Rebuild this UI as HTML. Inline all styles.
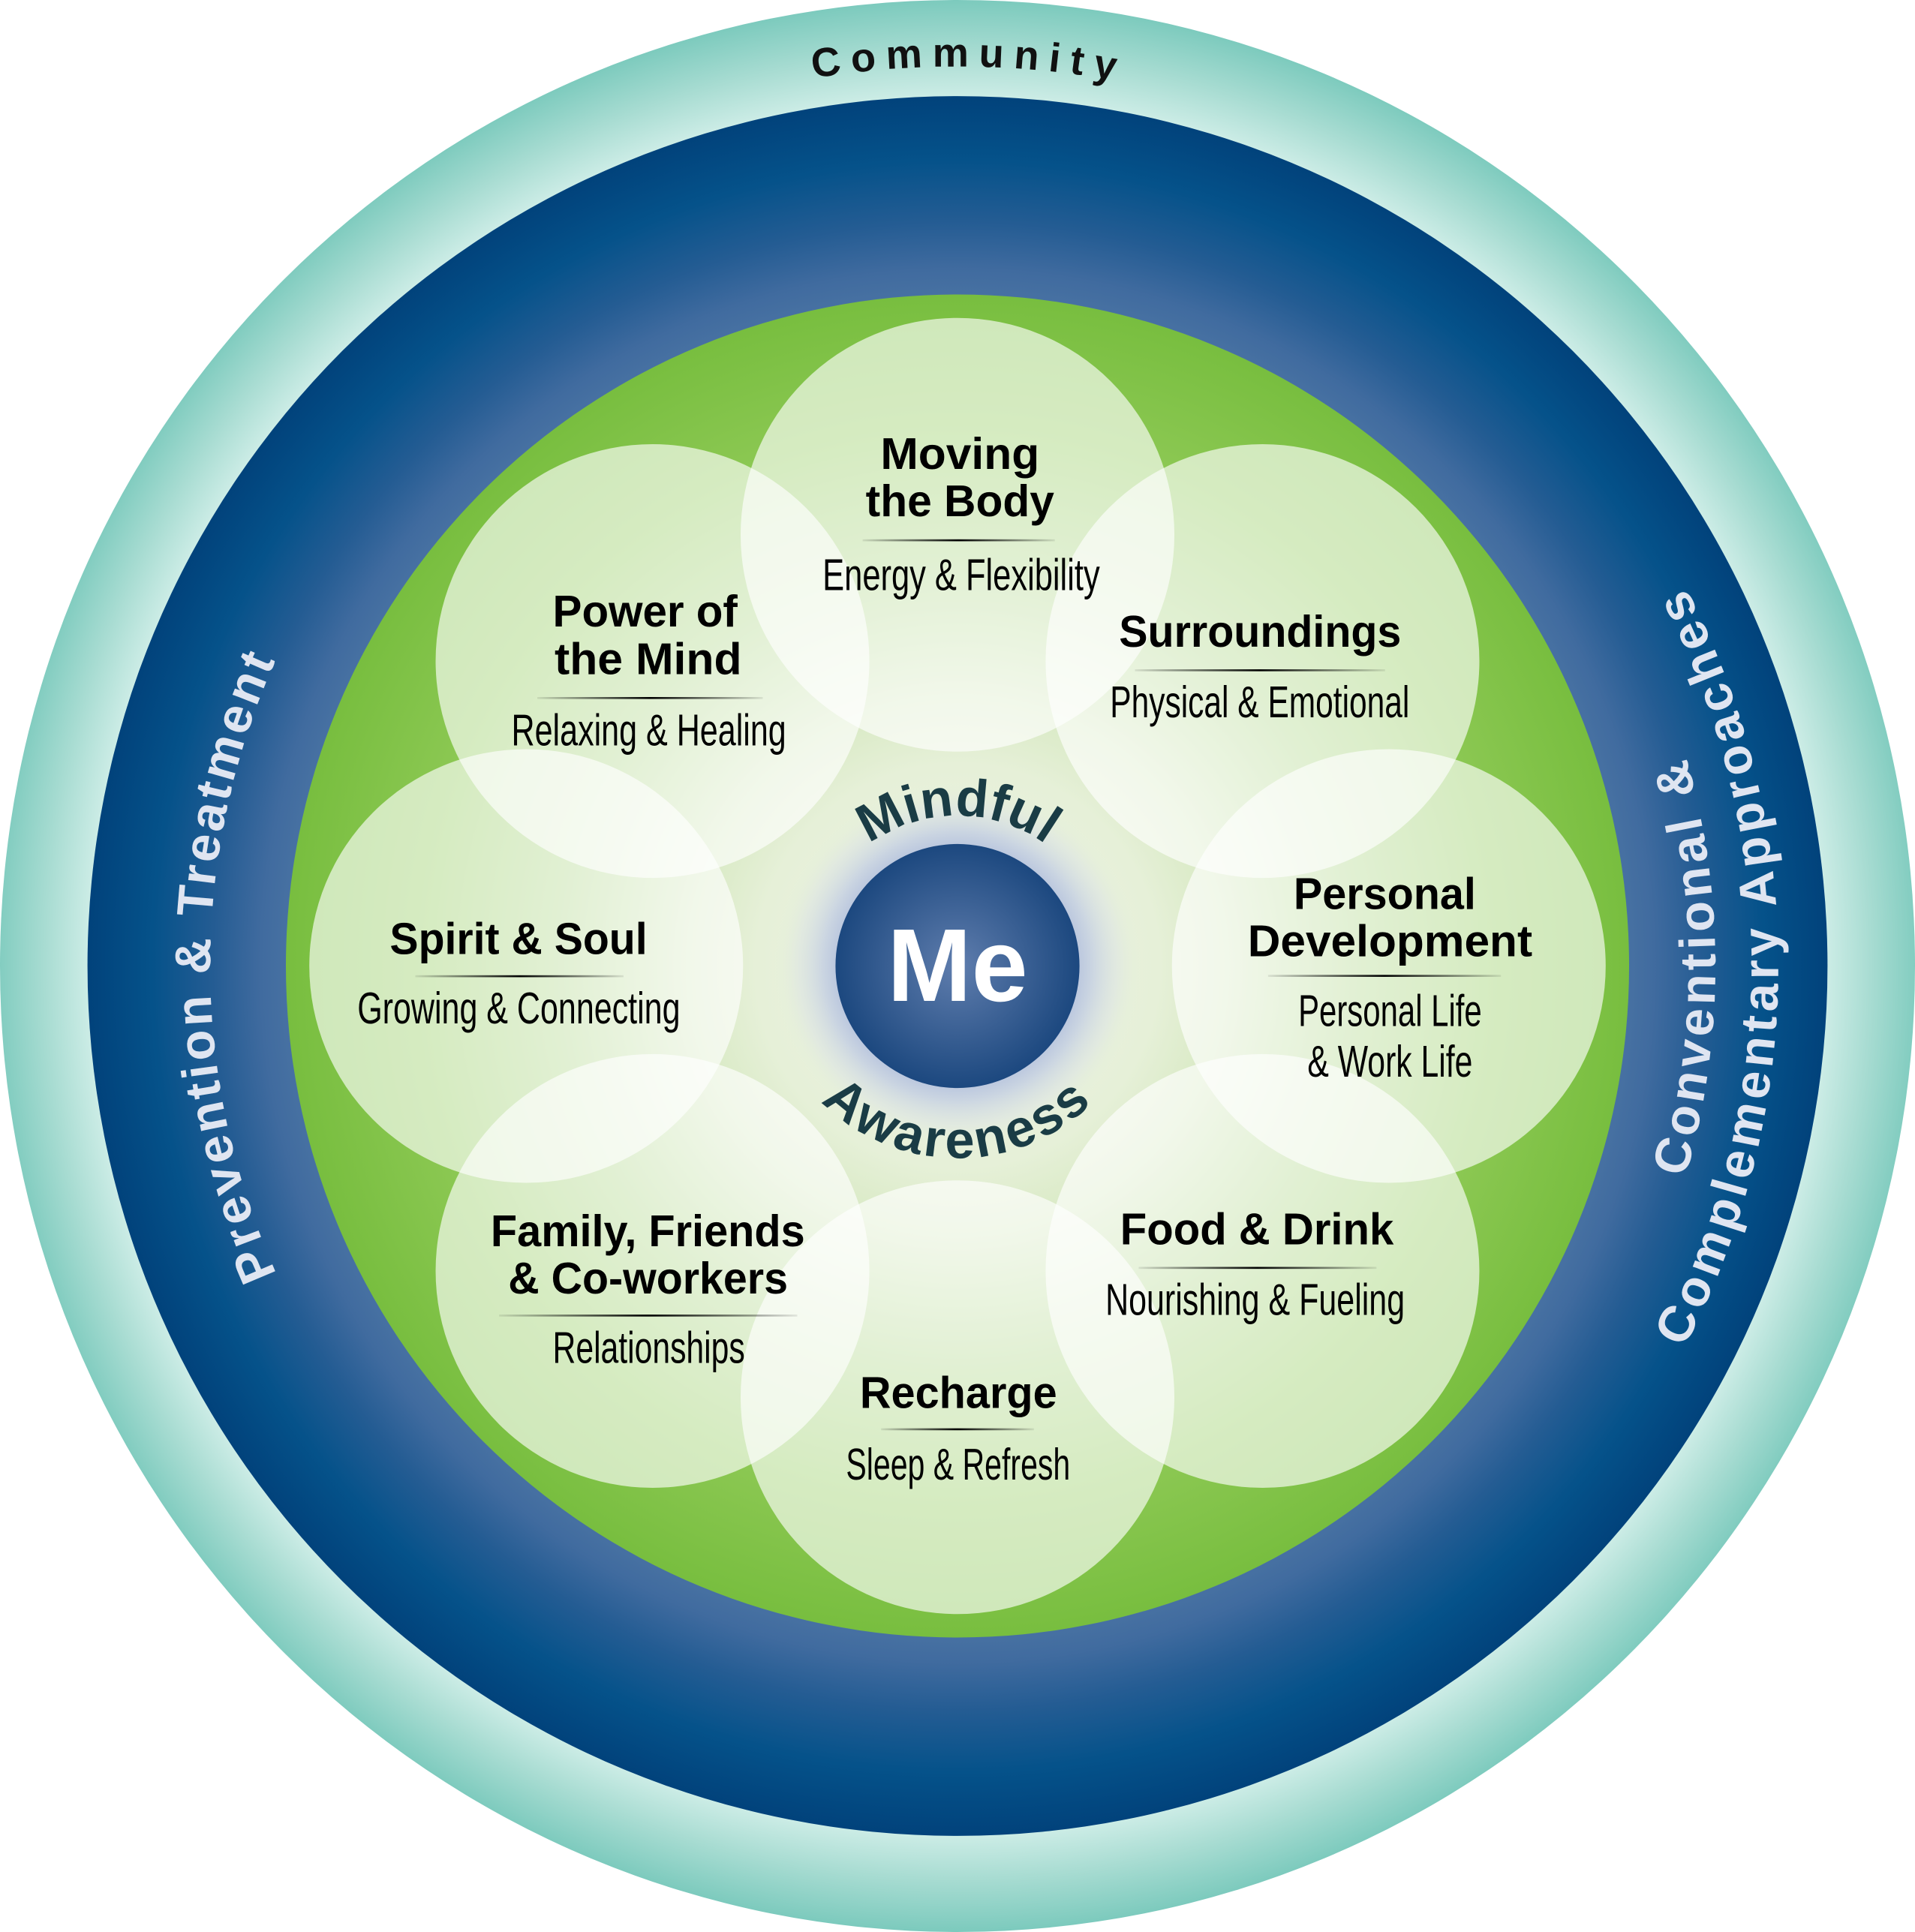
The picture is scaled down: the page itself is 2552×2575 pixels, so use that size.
<!DOCTYPE html>
<html><head><meta charset="utf-8">
<style>
html,body{margin:0;padding:0;background:#fff;width:2552px;height:2575px;overflow:hidden;}
svg{display:block;}
text{font-family:"Liberation Sans",Arial,sans-serif;}
.t{font-weight:bold;font-size:36px;fill:#000;}
.s{font-weight:normal;font-size:36px;fill:#000;}
.ring{font-weight:bold;font-size:41px;fill:#dfe5f1;}
.mw{font-weight:bold;font-size:43px;fill:#1a3c45;}
</style></head><body>
<svg width="2552" height="2575" viewBox="0 0 1554 1568" xmlns="http://www.w3.org/2000/svg">
<defs>
<radialGradient id="teal" gradientUnits="userSpaceOnUse" cx="777" cy="784" r="784">
 <stop offset="0.895" stop-color="#d0eee8"/>
 <stop offset="0.945" stop-color="#a8dcd2"/>
 <stop offset="1" stop-color="#7ccabd"/>
</radialGradient>
<radialGradient id="blue" gradientUnits="userSpaceOnUse" cx="777" cy="784" r="707">
 <stop offset="0.77" stop-color="#4771a2"/>
 <stop offset="0.80" stop-color="#406b9f"/>
 <stop offset="0.855" stop-color="#245c93"/>
 <stop offset="0.925" stop-color="#05528a"/>
 <stop offset="1" stop-color="#01427b"/>
</radialGradient>
<radialGradient id="green" gradientUnits="userSpaceOnUse" cx="777" cy="784" r="545">
 <stop offset="0" stop-color="#eff6e6"/>
 <stop offset="0.3" stop-color="#e6f0d8"/>
 <stop offset="0.4" stop-color="#d9eac5"/>
 <stop offset="0.6" stop-color="#acd585"/>
 <stop offset="0.8" stop-color="#8cc853"/>
 <stop offset="1" stop-color="#78be3f"/>
</radialGradient>
<radialGradient id="glow" gradientUnits="userSpaceOnUse" cx="777" cy="784" r="150">
 <stop offset="0.6" stop-color="#aebcdb" stop-opacity="1"/>
 <stop offset="0.72" stop-color="#c3cee2" stop-opacity="0.85"/>
 <stop offset="0.86" stop-color="#d8dfe6" stop-opacity="0.45"/>
 <stop offset="1" stop-color="#e6f0d8" stop-opacity="0"/>
</radialGradient>
<radialGradient id="me" cx="0.5" cy="0.5" r="0.5">
 <stop offset="0" stop-color="#5f7dad"/>
 <stop offset="1" stop-color="#1c487f"/>
</radialGradient>
<linearGradient id="sep" x1="0" y1="0" x2="1" y2="0">
 <stop offset="0" stop-color="#000" stop-opacity="0.08"/>
 <stop offset="0.5" stop-color="#000" stop-opacity="1"/>
 <stop offset="1" stop-color="#000" stop-opacity="0.08"/>
</linearGradient>
<path id="pComm" d="M 47 784 A 730 730 0 0 1 1507 784"/>
<path id="pMind" d="M 655 784 A 122 122 0 0 1 899 784"/>
<path id="pAware" d="M 621 784 A 156 156 0 0 0 933 784"/>
<path id="pPrev" d="M 473.75 1309.2 A 606.5 606.5 0 0 1 473.75 258.8"/>
<path id="pConv1" d="M 1084.5 1316.6 A 615 615 0 0 0 1084.5 251.4"/>
<path id="pConv2" d="M 1110 1360.8 A 666 666 0 0 0 1110 207.2"/>
</defs>

<!-- rings -->
<ellipse cx="777" cy="784" rx="777" ry="784" fill="url(#teal)"/>
<circle cx="777" cy="784" r="706" fill="url(#blue)"/>
<circle cx="777" cy="784" r="545" fill="url(#green)"/>

<!-- petals -->
<g fill="#ffffff" fill-opacity="0.64">
 <circle cx="777" cy="434" r="176"/>
 <circle cx="1024.5" cy="536.5" r="176"/>
 <circle cx="1127" cy="784" r="176"/>
 <circle cx="1024.5" cy="1031.5" r="176"/>
 <circle cx="777" cy="1134" r="176"/>
 <circle cx="529.5" cy="1031.5" r="176"/>
 <circle cx="427" cy="784" r="176"/>
 <circle cx="529.5" cy="536.5" r="176"/>
</g>

<!-- center -->
<circle cx="777" cy="784" r="150" fill="url(#glow)"/>
<circle cx="777" cy="784" r="99" fill="url(#me)"/>
<text x="777" y="812.3" text-anchor="middle" font-weight="bold" font-size="84" fill="#fff" textLength="114" lengthAdjust="spacingAndGlyphs">Me</text>

<text class="mw"><textPath href="#pMind" startOffset="50%" text-anchor="middle">Mindful</textPath></text>
<text class="mw" letter-spacing="2.2"><textPath href="#pAware" startOffset="50%" text-anchor="middle">Awareness</textPath></text>

<!-- ring texts -->
<text font-weight="bold" font-size="33" fill="#111" letter-spacing="8"><textPath href="#pComm" startOffset="50.4%" text-anchor="middle">Community</textPath></text>
<text class="ring" letter-spacing="2.5"><textPath href="#pPrev" startOffset="50%" text-anchor="middle">Prevention &amp; Treatment</textPath></text>
<text class="ring" letter-spacing="3.4"><textPath href="#pConv1" startOffset="50%" text-anchor="middle">Conventional &amp;</textPath></text>
<text class="ring" letter-spacing="3.7"><textPath href="#pConv2" startOffset="50%" text-anchor="middle">Complementary Approaches</textPath></text>

<!-- separators -->
<g fill="url(#sep)">
 <rect x="700" y="437.7" width="156" height="1.6"/>
 <rect x="436" y="565.7" width="183" height="1.6"/>
 <rect x="921" y="543.2" width="203" height="1.6"/>
 <rect x="1029" y="791.2" width="189" height="1.6"/>
 <rect x="337" y="791.5" width="169" height="1.6"/>
 <rect x="405" y="1066.9" width="242" height="1.6"/>
 <rect x="924" y="1028.2" width="193" height="1.6"/>
 <rect x="715" y="1159.2" width="124" height="1.6"/>
</g>

<!-- Moving the Body -->
<text class="t" x="779" y="380.6" text-anchor="middle" textLength="129" lengthAdjust="spacingAndGlyphs">Moving</text>
<text class="t" x="779" y="419" text-anchor="middle" textLength="153" lengthAdjust="spacingAndGlyphs">the Body</text>
<text class="s" x="780" y="479" text-anchor="middle" textLength="225" lengthAdjust="spacingAndGlyphs">Energy &amp; Flexibility</text>

<!-- Power of the Mind -->
<text class="t" x="523.5" y="508.5" text-anchor="middle" textLength="150" lengthAdjust="spacingAndGlyphs">Power of</text>
<text class="t" x="526" y="547" text-anchor="middle" textLength="152" lengthAdjust="spacingAndGlyphs">the Mind</text>
<text class="s" x="526.5" y="605" text-anchor="middle" textLength="223" lengthAdjust="spacingAndGlyphs">Relaxing &amp; Healing</text>

<!-- Surroundings -->
<text class="t" x="1022.6" y="525" text-anchor="middle" textLength="229" lengthAdjust="spacingAndGlyphs">Surroundings</text>
<text class="s" x="1022.3" y="582" text-anchor="middle" textLength="243" lengthAdjust="spacingAndGlyphs">Physical &amp; Emotional</text>

<!-- Personal Development -->
<text class="t" x="1123.7" y="737.7" text-anchor="middle" textLength="148" lengthAdjust="spacingAndGlyphs">Personal</text>
<text class="t" x="1128" y="776" text-anchor="middle" textLength="231" lengthAdjust="spacingAndGlyphs">Development</text>
<text class="s" x="1128" y="832.8" text-anchor="middle" textLength="149" lengthAdjust="spacingAndGlyphs">Personal Life</text>
<text class="s" x="1128" y="873.8" text-anchor="middle" textLength="134" lengthAdjust="spacingAndGlyphs">&amp; Work Life</text>

<!-- Spirit & Soul -->
<text class="t" x="420.8" y="774.3" text-anchor="middle" textLength="209" lengthAdjust="spacingAndGlyphs">Spirit &amp; Soul</text>
<text class="s" x="421" y="830.6" text-anchor="middle" textLength="262" lengthAdjust="spacingAndGlyphs">Growing &amp; Connecting</text>

<!-- Family -->
<text class="t" x="525.7" y="1011.4" text-anchor="middle" textLength="255" lengthAdjust="spacingAndGlyphs">Family, Friends</text>
<text class="t" x="525.9" y="1049.8" text-anchor="middle" textLength="227" lengthAdjust="spacingAndGlyphs">&amp; Co-workers</text>
<text class="s" x="526.5" y="1106.2" text-anchor="middle" textLength="156" lengthAdjust="spacingAndGlyphs">Relationships</text>

<!-- Food & Drink -->
<text class="t" x="1020" y="1009.8" text-anchor="middle" textLength="222" lengthAdjust="spacingAndGlyphs">Food &amp; Drink</text>
<text class="s" x="1018.5" y="1067.3" text-anchor="middle" textLength="243" lengthAdjust="spacingAndGlyphs">Nourishing &amp; Fueling</text>

<!-- Recharge -->
<text class="t" x="777.8" y="1142.8" text-anchor="middle" textLength="160" lengthAdjust="spacingAndGlyphs">Recharge</text>
<text class="s" x="777.5" y="1200.7" text-anchor="middle" textLength="182" lengthAdjust="spacingAndGlyphs">Sleep &amp; Refresh</text>
</svg>
</body></html>
